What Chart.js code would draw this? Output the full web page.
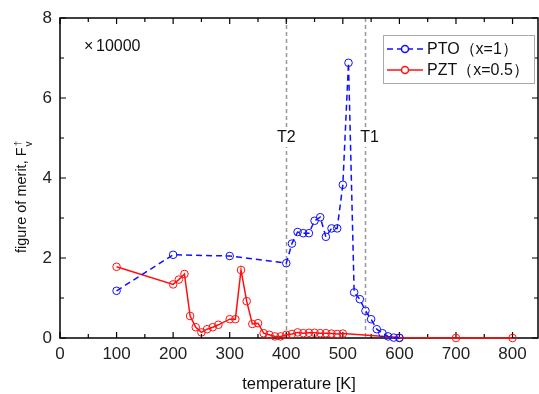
<!DOCTYPE html>
<html>
<head>
<meta charset="utf-8">
<script src="https://cdn.jsdelivr.net/npm/chart.js@4"></script>
<style>
html, body { margin: 0; padding: 0; background: #fff; }
#wrap { width: 539px; height: 394px; position: relative; }
</style>
</head>
<body>
<div id="wrap"><canvas id="chart" width="539" height="394"></canvas></div>
<script>
// data (y in units of 10000)
const ptoTemp = [100, 200, 300, 400, 410, 420, 430, 440, 450, 460, 470, 480, 490, 500, 510, 520, 530, 540, 550, 560, 570, 580, 590, 600];
const ptoFom = [1.18, 2.08, 2.05, 1.87, 2.36, 2.65, 2.62, 2.62, 2.93, 3.02, 2.53, 2.74, 2.74, 3.83, 6.88, 1.14, 0.97, 0.68, 0.47, 0.22, 0.12, 0.04, 0.01, 0.0];
const pztTemp = [100, 200, 210, 220, 230, 240, 250, 260, 270, 280, 300, 310, 320, 330, 340, 350, 360, 370, 380, 390, 400, 410, 420, 430, 440, 450, 460, 470, 480, 490, 500, 600, 700, 800];
const pztFom = [1.78, 1.34, 1.46, 1.6, 0.55, 0.27, 0.14, 0.22, 0.27, 0.33, 0.47, 0.47, 1.7, 0.92, 0.35, 0.37, 0.12, 0.08, 0.04, 0.04, 0.08, 0.1, 0.14, 0.12, 0.13, 0.13, 0.12, 0.12, 0.11, 0.1, 0.11, 0.01, 0.0, 0.0];
const xTicks = [0, 100, 200, 300, 400, 500, 600, 700, 800];
const yTicks = [0, 2, 4, 6, 8];
const markers = [{ x: 400, label: 'T2', dx: 0 }, { x: 540, label: 'T1', dx: 4 }];
const labels = ['PTO\uFF08x=1\uFF09', 'PZT\uFF08x=0.5\uFF09'];

const FONT = '"Liberation Sans", Arial, sans-serif';

function toPoints(xs, ys) {
  return xs.map((x, i) => ({ x: x, y: ys[i] }));
}

// frame, inward ticks, T lines, labels, legend
const decorPlugin = {
  id: 'decor',
  beforeDatasetsDraw(chart) {
    const ctx = chart.ctx;
    const a = chart.chartArea;
    const xs = chart.scales.x, ys = chart.scales.y;
    ctx.save();
    // vertical dashed lines
    ctx.strokeStyle = '#999';
    ctx.lineWidth = 1.5;
    ctx.setLineDash([4, 3]);
    markers.forEach(m => {
      const px = Math.round(xs.getPixelForValue(m.x)) + 0.5;
      ctx.beginPath();
      ctx.moveTo(px, a.top);
      ctx.lineTo(px, a.bottom);
      ctx.stroke();
    });
    ctx.setLineDash([]);
    // frame
    ctx.strokeStyle = '#000';
    ctx.lineWidth = 1.5;
    ctx.strokeRect(a.left, a.top, a.right - a.left, a.bottom - a.top);
    // ticks
    ctx.lineWidth = 1.2;
    ctx.beginPath();
    for (let v = 0; v <= 800; v += 50) {
      const px = xs.getPixelForValue(v);
      const len = v % 100 === 0 ? 6 : 4;
      ctx.moveTo(px, a.bottom); ctx.lineTo(px, a.bottom - len);
      ctx.moveTo(px, a.top); ctx.lineTo(px, a.top + len);
    }
    for (let v = 0; v <= 8; v += 1) {
      const py = ys.getPixelForValue(v);
      const len = v % 2 === 0 ? 6 : 4;
      ctx.moveTo(a.left, py); ctx.lineTo(a.left + len, py);
      ctx.moveTo(a.right, py); ctx.lineTo(a.right - len, py);
    }
    ctx.stroke();
    ctx.restore();
  },
  afterDatasetsDraw(chart) {
    const ctx = chart.ctx;
    const a = chart.chartArea;
    const xs = chart.scales.x;
    ctx.save();
    ctx.font = '16px ' + FONT;
    ctx.textBaseline = 'middle';
    // T labels
    markers.forEach(m => {
      const px = xs.getPixelForValue(m.x) + m.dx;
      const w = ctx.measureText(m.label).width;
      ctx.fillStyle = '#fff';
      ctx.fillRect(px - w / 2 - 1, 128, w + 2, 19);
      ctx.fillStyle = '#111';
      ctx.textAlign = 'center';
      ctx.fillText(m.label, px, 138);
    });
    // multiplier
    ctx.textAlign = 'left';
    ctx.fillStyle = '#111';
    ctx.fillText('\u00D7', 84, 47);
    ctx.fillText('10000', 96, 47);
    // x title
    ctx.textAlign = 'center';
    ctx.font = '16.5px ' + FONT;
    ctx.fillText('temperature [K]', (a.left + a.right) / 2, 384);
    // legend
    const lx = 383, ly = 35, lw = 151, lh = 48;
    ctx.fillStyle = '#fff';
    ctx.fillRect(lx, ly, lw, lh);
    ctx.strokeStyle = '#aaa';
    ctx.lineWidth = 1;
    ctx.strokeRect(lx + 0.5, ly + 0.5, lw, lh);
    ctx.textAlign = 'left';
    chart.data.datasets.forEach((ds, i) => {
      const y = ly + 14 + i * 21;
      ctx.strokeStyle = ds.borderColor;
      ctx.lineWidth = 1.5;
      ctx.setLineDash(ds.borderDash || []);
      ctx.beginPath();
      ctx.moveTo(lx + 4, y); ctx.lineTo(lx + 40, y);
      ctx.stroke();
      ctx.setLineDash([]);
      ctx.fillStyle = '#fff';
      ctx.beginPath();
      ctx.arc(lx + 22, y, 3.5, 0, Math.PI * 2);
      ctx.fill();
      ctx.stroke();
      ctx.fillStyle = '#111';
      ctx.font = '16px ' + FONT;
      ctx.fillText(labels[i], lx + 44, y + 1);
    });
    // y title with sub/superscript
    ctx.translate(26, 253);
    ctx.rotate(-Math.PI / 2);
    ctx.textBaseline = 'alphabetic';
    ctx.textAlign = 'left';
    ctx.font = '14.5px ' + FONT;
    const main = 'figure of merit, F';
    const mw = ctx.measureText(main).width;
    ctx.fillText(main, 0, 0);
    ctx.font = '10px ' + FONT;
    ctx.fillText('v', mw + 1, 6);
    ctx.font = '9px ' + FONT;
    ctx.fillText('\u2020', mw + 1.5, -5);
    ctx.restore();
  }
};

new Chart(document.getElementById('chart'), {
  type: 'line',
  data: {
    datasets: [
      {
        label: labels[0],
        data: toPoints(ptoTemp, ptoFom),
        borderColor: '#1010ff',
        backgroundColor: '#fff',
        borderWidth: 1.5,
        borderDash: [6, 4],
        pointRadius: 3.8,
        pointBorderWidth: 1,
        pointBorderColor: '#1010ff',
        pointBackgroundColor: 'rgba(255,255,255,0)',
        tension: 0,
        clip: 8
      },
      {
        label: labels[1],
        data: toPoints(pztTemp, pztFom),
        borderColor: '#ff1010',
        backgroundColor: '#fff',
        borderWidth: 1.5,
        pointRadius: 3.8,
        pointBorderWidth: 1,
        pointBorderColor: '#ff1010',
        pointBackgroundColor: 'rgba(255,255,255,0)',
        tension: 0,
        clip: 8
      }
    ]
  },
  options: {
    responsive: false,
    animation: false,
    layout: { autoPadding: false, padding: { top: 18, right: 1, left: 0, bottom: 0 } },
    plugins: {
      legend: { display: false },
      tooltip: { enabled: false }
    },
    scales: {
      x: {
        type: 'linear',
        min: 0,
        max: 845,
        afterBuildTicks: s => { s.ticks = xTicks.map(v => ({ value: v })); },
        afterFit: s => { s.height = 56; s.paddingLeft = 0; s.paddingRight = 0; },
        grid: { display: false, drawTicks: false },
        border: { display: false },
        ticks: { color: '#222', font: { family: FONT, size: 17 }, padding: 6, maxRotation: 0 }
      },
      y: {
        min: 0,
        max: 8,
        afterBuildTicks: s => { s.ticks = yTicks.map(v => ({ value: v })); },
        afterFit: s => { s.width = 60; s.paddingTop = 0; s.paddingBottom = 0; },
        grid: { display: false, drawTicks: false },
        border: { display: false },
        ticks: { color: '#222', font: { family: FONT, size: 17 }, padding: 8 }
      }
    }
  },
  plugins: [decorPlugin]
});
</script>
</body>
</html>
